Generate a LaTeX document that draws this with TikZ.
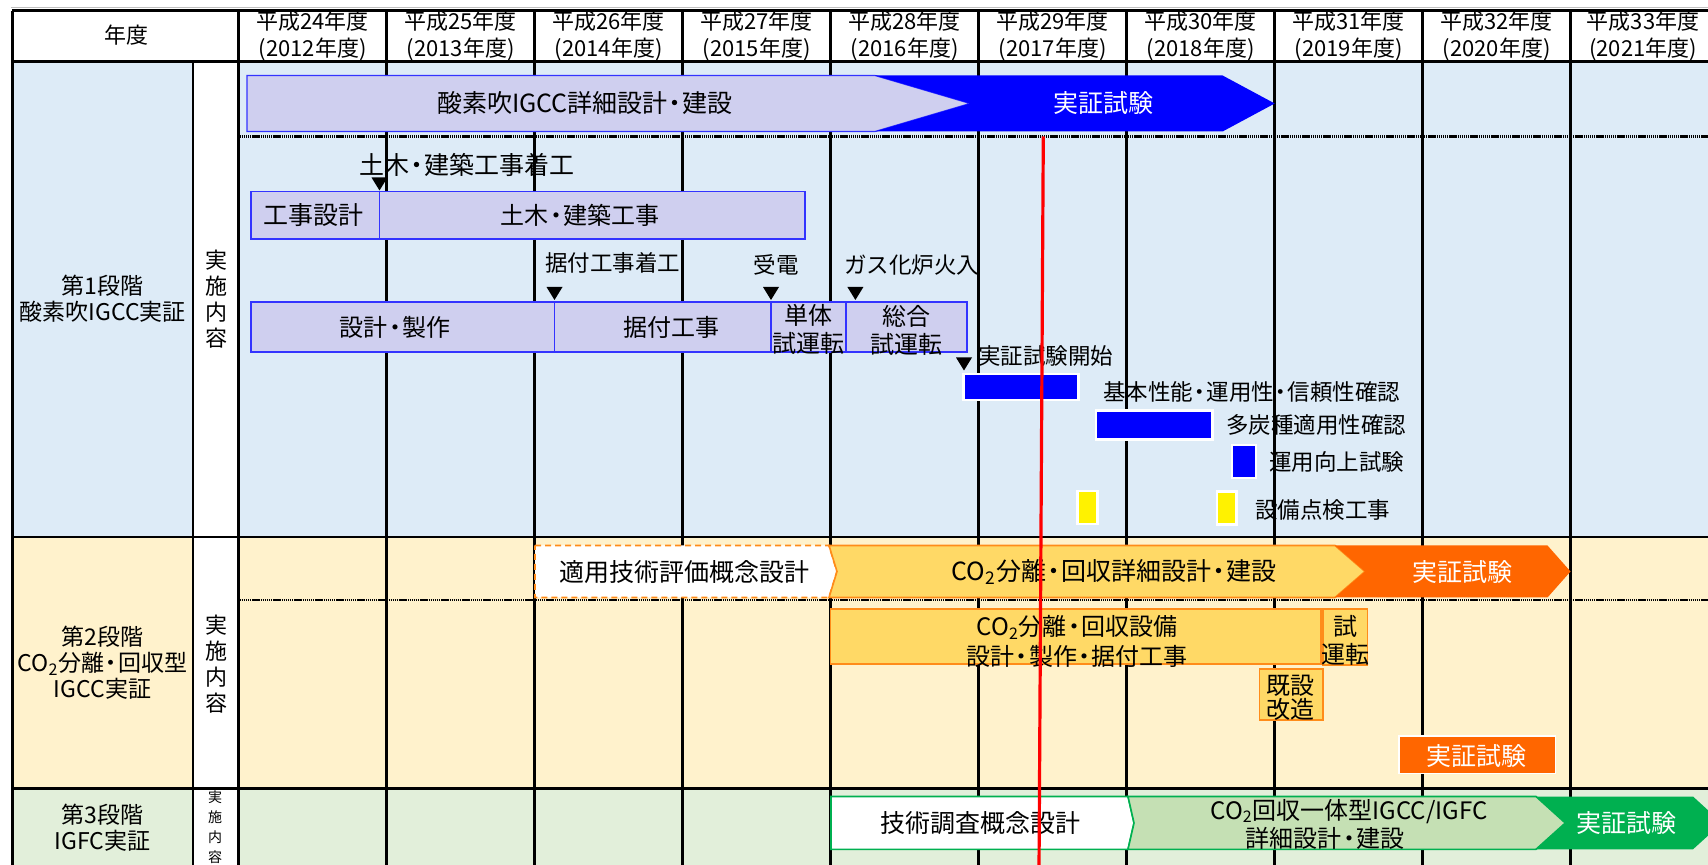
\documentclass[tikz,border=0pt]{standalone}
\usepackage{fontspec}
\setmainfont{Noto Sans CJK JP}
\usetikzlibrary{calc}
\definecolor{bgblue}{HTML}{DDEBF7}
\definecolor{bgyel}{HTML}{FFF2CC}
\definecolor{bggrn}{HTML}{E2EFDA}
\definecolor{lav}{HTML}{CFCFEF}
\definecolor{lavline}{HTML}{3333FF}
\definecolor{pblue}{HTML}{0000FF}
\definecolor{gold}{HTML}{FFD966}
\definecolor{goldline}{HTML}{FF8C1A}
\definecolor{orng}{HTML}{FF6600}
\definecolor{lgrn}{HTML}{C5E0B4}
\definecolor{dgrn}{HTML}{00B050}
\newcommand{\nkt}{\makebox[0.6em][c]{・}}
\newcommand{\fsz}[2]{\fontsize{#1}{#2}\selectfont}
\newcommand{\mk}[2]{\fill[black] ({#1-8},#2) -- ({#1+8},#2) -- (#1,{#2+13}) -- cycle;}
\begin{document}
\begin{tikzpicture}[x=0.5pt,y=-0.5pt,
  gridline/.style={line width=1.35pt, black},
  dotline/.style={line width=1.2pt, black, dash pattern=on 0.7pt off 0.35pt},
  lbl/.style={inner sep=0pt, anchor=west, font=\fsz{11.25pt}{13pt}},
  hdr/.style={inner sep=0pt, align=center, font=\fsz{11pt}{13.2pt}},
  stg/.style={inner sep=0pt, align=center, font=\fsz{11.5pt}{13pt}},
  vtxt/.style={inner sep=0pt, align=center, font=\fsz{11pt}{13pt}},
  boxtxt/.style={inner sep=0pt, align=center, font=\fsz{12pt}{14pt}},
  bigtxt/.style={inner sep=0pt, align=center, font=\fsz{12.5pt}{14pt}},
  lavbox/.style={fill=lav, draw=lavline, line width=0.6pt},
  goldbox/.style={fill=gold, draw=goldline, line width=0.8pt},
  bluebar/.style={fill=pblue, draw=white, line width=1.3pt},
  yelbar/.style={fill=yellow, draw=white, line width=1.3pt}]
\clip (0,0) rectangle (1708,865);
\fill[white] (0,0) rectangle (1708,865);
% row backgrounds
\fill[bgblue] (12.5,61.5) rectangle (1708,537);
\fill[bgyel] (12.5,537) rectangle (1708,788.5);
\fill[bggrn] (12.5,788.5) rectangle (1708,870);
\fill[white] (193,61.5) rectangle (238.6,870);
% grid
\draw[gray!50, line width=0.6pt] (11,7.3) -- (1708,7.3);
\foreach \k in {0,...,9} \draw[gridline] ({238.6+148*\k},10.8) -- ({238.6+148*\k},870);
\draw[gridline] (12.5,10.8) -- (12.5,870);
\draw[gridline] (193,61.5) -- (193,870);
\draw[gridline] (11.8,10.8) -- (1708,10.8);
\draw[gridline] (11.8,61.5) -- (1708,61.5);
\draw[gridline] (11.8,537) -- (1708,537);
\draw[gridline] (11.8,788.5) -- (1708,788.5);
\draw[dotline] (239.5,136.5) -- (1708,136.5);
\draw[dotline] (239.5,600) -- (1708,600);
% header
\node[hdr] (hyear) at (126,35.5) {年度};
\foreach \k/\yy/\yr in {0/24/2012,1/25/2013,2/26/2014,3/27/2015,4/28/2016,5/29/2017,6/30/2018,7/31/2019,8/32/2020}
  \node[hdr] (h\k) at ({312.6+148*\k},36) {平成{\yy}年度\\({\yr}年度)};
\node[hdr] (h9) at (1643,36) {平成33年度\\(2021年度)};
% stage labels
\node[stg] (s1) at (102.7,299) {第1段階\\酸素吹IGCC実証};
\node[stg] (s2) at (102.5,663) {第2段階\\CO\textsubscript{2}分離\nkt 回収型\\IGCC実証};
\node[stg] (s3) at (102.5,828) {第3段階\\IGFC実証};
\node[vtxt] (v1) at (216,299) {実\\施\\内\\容};
\node[vtxt] (v2) at (216,664) {実\\施\\内\\容};
\node[inner sep=0pt, align=center, font=\fsz{7pt}{10pt}] (v3) at (215,827) {実\\施\\内\\容};
% ---------- stage 1
\path[lavbox] (247,75.5) -- (875,75.5) -- (970,103.5) -- (875,131.5) -- (247,131.5) -- cycle;
\fill[pblue] (875,75.5) -- (1222.6,75.5) -- (1274.7,103.5) -- (1222.6,131.5) -- (875,131.5) -- (970,103.5) -- cycle;
\node[bigtxt] (a1) at (585,103.5) {酸素吹IGCC詳細設計\nkt 建設};
\node[bigtxt, text=white] (a2) at (1103,103.5) {実証試験};
\node[lbl, font=\fsz{12.5pt}{13pt}] (l1) at (359,165) {土木\nkt 建築工事着工};
\mk{379.5}{177.5}
\path[lavbox] (251,191.5) rectangle (379.5,239);
\path[lavbox] (379.5,191.5) rectangle (805,239);
\node[bigtxt] (b1) at (313.5,215) {工事設計};
\node[boxtxt] (b2) at (580,215) {土木\nkt 建築工事};
\node[lbl] (l2) at (545,263) {据付工事着工};
\node[lbl] (l3) at (753.5,265) {受電};
\node[lbl] (l4) at (844,265) {ガス化炉火入};
\mk{554.5}{287}
\mk{771}{287}
\mk{855.4}{287}
\path[lavbox] (251,302) rectangle (554.5,352);
\path[lavbox] (554.5,302) rectangle (771,352);
\path[lavbox] (771,302) rectangle (846,352);
\path[lavbox] (846,302) rectangle (967,352);
\node[boxtxt] (b3) at (395,327) {設計\nkt 製作};
\node[boxtxt] (b4) at (671,327) {据付工事};
\node[boxtxt] (b5) at (808,329) {単体\\試運転};
\node[boxtxt] (b6) at (906.5,330.5) {総合\\試運転};
\node[lbl] (l5) at (978,356) {実証試験開始};
\mk{964}{357.5}
\path[bluebar] (963.5,374) rectangle (1078.5,400);
\node[lbl] (l6) at (1103,392) {基本性能\nkt 運用性\nkt 信頼性確認};
\path[bluebar] (1096,410.5) rectangle (1212.5,439.5);
\node[lbl] (l7) at (1226,425) {多炭種適用性確認};
\path[bluebar] (1232,445) rectangle (1256,478);
\node[lbl] (l8) at (1269,462) {運用向上試験};
\path[yelbar] (1077.5,491) rectangle (1097.5,524);
\path[yelbar] (1217,491.5) rectangle (1236.5,524.5);
\node[lbl] (l9) at (1255,510) {設備点検工事};
% ---------- stage 2
\path[fill=white, draw=goldline, line width=0.9pt, dash pattern=on 3pt off 2pt] (535,545.5) -- (829,545.5) -- (837,571.5) -- (829,597.5) -- (535,597.5) -- cycle;
\path[goldbox] (829,545.5) -- (1335,545.5) -- (1365,571.5) -- (1335,597.5) -- (829,597.5) -- (837,571.5) -- cycle;
\fill[orng] (1335,545.5) -- (1547.5,545.5) -- (1570.5,571.5) -- (1547.5,597.5) -- (1335,597.5) -- (1365,571.5) -- cycle;
\node[bigtxt] (c1) at (684,572) {適用技術評価概念設計};
\node[bigtxt] (c2) at (1114,572) {CO\textsubscript{2}分離\nkt 回収詳細設計\nkt 建設};
\node[bigtxt, text=white] (c3) at (1462,572) {実証試験};
\path[goldbox] (830.5,609) rectangle (1321,664);
\node[boxtxt, font=\fsz{12pt}{14.6pt}] (c4) at (1077,641.5) {CO\textsubscript{2}分離\nkt 回収設備\\設計\nkt 製作\nkt 据付工事};
\path[goldbox] (1323,609) rectangle (1367.5,665);
\node[boxtxt] (c5) at (1345,640) {試\\運転};
\path[goldbox] (1259.4,669) rectangle (1323,720);
\node[boxtxt, font=\fsz{12pt}{12.3pt}] (c6) at (1290,698) {既設\\改造};
\path[fill=orng, draw=white, line width=0.6pt] (1399,736) rectangle (1555.6,773.3);
\node[bigtxt, text=white] (c7) at (1476,756) {実証試験};
% ---------- stage 3
\path[fill=white, draw=dgrn, line width=0.8pt] (831,796.5) -- (1128,796.5) -- (1134,823) -- (1128,849.3) -- (831,849.3) -- cycle;
\path[fill=lgrn, draw=dgrn, line width=0.8pt] (1128,796.5) -- (1536,796.5) -- (1565.3,823) -- (1536,849.3) -- (1128,849.3) -- (1134,823) -- cycle;
\fill[dgrn] (1536,796.5) -- (1693,796.5) -- (1722,823) -- (1693,849.3) -- (1536,849.3) -- (1565.3,823) -- cycle;
\node[bigtxt] (d1) at (980.5,823.3) {技術調査概念設計};
\node[boxtxt] (d2) at (1349,824) {CO\textsubscript{2}回収一体型IGCC/IGFC\\詳細設計\nkt 建設\hspace*{24pt}};
\node[bigtxt, text=white] (d3) at (1626,823) {実証試験};
% red line
\draw[red, line width=1.6pt] (1043.3,136.5) -- (1039,870);
\end{tikzpicture}
\end{document}
